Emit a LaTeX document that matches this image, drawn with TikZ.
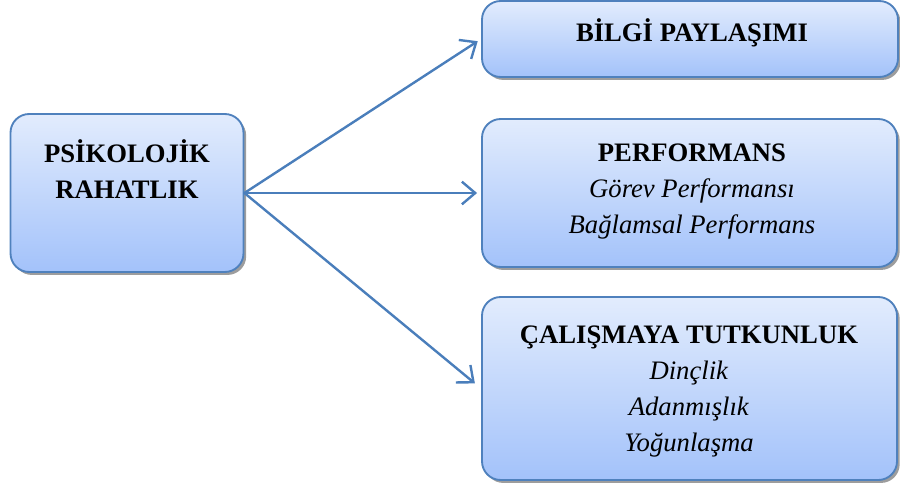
\documentclass[tikz,border=0pt]{standalone}
\usepackage{fontspec}
\setmainfont{Liberation Serif}
\usetikzlibrary{arrows.meta,shadows}

\definecolor{kutucizgi}{RGB}{79,129,189}
\definecolor{kutuust}{RGB}{226,236,253}
\definecolor{kutualt}{RGB}{163,194,250}
\definecolor{okrenk}{RGB}{74,126,187}

\tikzset{
  kutu/.style={draw=kutucizgi, line width=1.4pt, rounded corners=14pt,
    top color=kutuust, bottom color=kutualt,
    drop shadow={shadow xshift=2pt, shadow yshift=-2.2pt, fill=black!55, opacity=0.7}},
  ok/.style={draw=okrenk, line width=1.8pt, line cap=round,
    -{Straight Barb[length=10pt,width=17pt,line width=1.8pt]}},
  yazi/.style={align=center, font=\fontsize{20}{27}\selectfont},
}

\begin{document}
\begin{tikzpicture}[x=0.75pt, y=-0.75pt]
  \useasboundingbox (0,0) rectangle (900,489);

  % kutular
  \node[kutu, minimum width=233*0.75pt, minimum height=158*0.75pt] (psk) at (127,193) {};
  \node[kutu, minimum width=416*0.75pt, minimum height=76*0.75pt] (bilgi) at (690,39) {};
  \node[kutu, minimum width=415*0.75pt, minimum height=148*0.75pt] (perf) at (689.5,193) {};
  \node[kutu, minimum width=415*0.75pt, minimum height=183*0.75pt] (calis) at (689.5,388.5) {};

  % metinler
  \node[yazi] (pskyazi) at (127,169) {\textbf{PSİKOLOJİK}\\\textbf{RAHATLIK}};
  \node[yazi] (bilgiyazi) at (692,33) {\textbf{BİLGİ PAYLAŞIMI}};
  \node[yazi] (perfyazi) at (692,192) {\textbf{PERFORMANS}\\\textit{Görev Performansı}\\%
    \textit{Bağlamsal Performans}};
  \node[yazi] (calisyazi) at (689,392) {\textbf{ÇALIŞMAYA TUTKUNLUK}\\\textit{Dinçlik}\\%
    \textit{Adanmışlık}\\\textit{Yoğunlaşma}};

  % oklar
  \draw[ok, shorten >=3pt] (psk.east) -- (bilgi.west);
  \draw[ok, shorten >=3pt] (psk.east) -- (perf.west);
  \draw[ok, shorten >=6pt] (psk.east) -- (calis.west);
\end{tikzpicture}
\end{document}
